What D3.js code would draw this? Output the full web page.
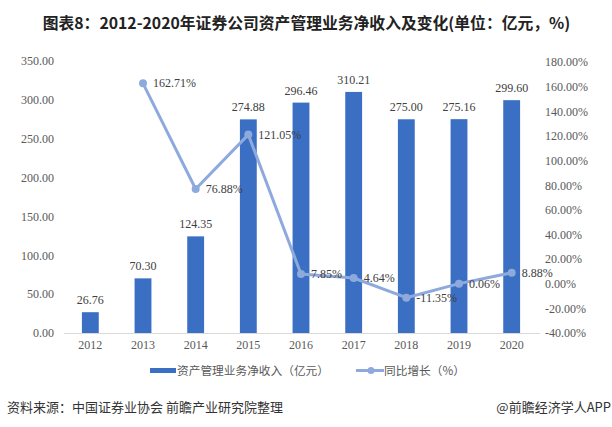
<!DOCTYPE html>
<html><head><meta charset="utf-8">
<script src="https://cdn.jsdelivr.net/npm/d3@7/dist/d3.min.js"></script>
<style>body{margin:0;background:#fff}svg{display:block}</style>
</head><body><svg id="c" width="612" height="427"></svg>
<script>
const years = ["2012","2013","2014","2015","2016","2017","2018","2019","2020"];
const revenue = [26.76,70.30,124.35,274.88,296.46,310.21,275.00,275.16,299.60];
const growth = [null,162.71,76.88,121.05,7.85,4.64,-11.35,0.06,8.88];
const leftTicks = [0,50,100,150,200,250,300,350];
const rightTicks = [-40,-20,0,20,40,60,80,100,120,140,160,180];
const title = "图表8：2012-2020年证券公司资产管理业务净收入及变化(单位：亿元，%)";
const legendBar = "资产管理业务净收入（亿元）";
const legendLine = "同比增长（%）";
const source = "资料来源：中国证券业协会 前瞻产业研究院整理";
const credit = "@前瞻经济学人APP";

const svg = d3.select("#c");
const serif = "'Liberation Serif','DejaVu Serif',serif";
const sans = "'Noto Sans CJK SC','Noto Sans',sans-serif";
const barColor = "#3a6fc4", lineColor = "#8eaadc", txt = "#595959";

const x = d3.scaleBand().domain(years).range([64,538]).paddingInner(0.68).paddingOuter(0.34);
const y = d3.scaleLinear().domain([0,350]).range([333,61]);
const y2 = d3.scaleLinear().domain([-40,180]).range([333,62]);

svg.append("text").attr("x",306.5).attr("y",29).attr("text-anchor","middle")
  .attr("font-family",sans).attr("font-weight","bold").attr("font-size",15.8).attr("fill","#222").text(title);

// left axis
const ga = svg.append("g").attr("transform","translate(56,0)")
  .call(d3.axisLeft(y).tickValues(leftTicks).tickFormat(d3.format(".2f")).tickSize(0).tickPadding(2));
ga.select(".domain").remove();
ga.selectAll("text").attr("font-family",serif).attr("font-size",12).attr("fill",txt);

const gr = svg.append("g").attr("transform","translate(543,0)")
  .call(d3.axisRight(y2).tickValues(rightTicks).tickFormat(d=>d.toFixed(2)+"%").tickSize(0).tickPadding(2));
gr.select(".domain").remove();
gr.selectAll("text").attr("font-family",serif).attr("font-size",12).attr("fill",txt);

// x axis
const gx = svg.append("g").attr("transform","translate(0,333)")
  .call(d3.axisBottom(x).tickSize(0).tickPadding(7));
gx.select(".domain").attr("stroke","#d9d9d9").attr("d","M64,0.5H540");
gx.selectAll("text").attr("font-family",serif).attr("font-size",12).attr("fill",txt);

// bars
svg.append("g").selectAll("rect").data(years).join("rect")
  .attr("x",d=>x(d)).attr("width",x.bandwidth())
  .attr("y",(d,i)=>y(revenue[i])).attr("height",(d,i)=>y(0)-y(revenue[i]))
  .attr("fill",barColor);
svg.append("g").selectAll("text").data(years).join("text")
  .attr("x",d=>x(d)+x.bandwidth()/2).attr("y",(d,i)=>y(revenue[i])-8)
  .attr("text-anchor","middle").attr("font-family",serif).attr("font-size",12).attr("fill","#404040")
  .text((d,i)=>revenue[i].toFixed(2));

// line
const pts = years.map((d,i)=>({yr:d,v:growth[i]})).filter(p=>p.v!==null);
const cx = d=>x(d.yr)+x.bandwidth()/2;
svg.append("path").datum(pts).attr("fill","none").attr("stroke",lineColor).attr("stroke-width",3)
  .attr("stroke-linejoin","round")
  .attr("d",d3.line().x(cx).y(d=>y2(d.v)));
svg.append("g").selectAll("circle").data(pts).join("circle")
  .attr("cx",cx).attr("cy",d=>y2(d.v)).attr("r",4).attr("fill",lineColor);
svg.append("g").selectAll("text").data(pts).join("text")
  .attr("x",d=>cx(d)+10).attr("y",d=>y2(d.v)+4)
  .attr("font-family",serif).attr("font-size",12).attr("fill","#404040")
  .text(d=>d.v.toFixed(2)+"%");

// legend
const lg = svg.append("g").attr("font-family",sans).attr("font-size",11.7).attr("fill",txt);
lg.append("rect").attr("x",150).attr("y",368).attr("width",26).attr("height",5).attr("fill",barColor);
lg.append("text").attr("x",177).attr("y",375).text(legendBar);
lg.append("line").attr("x1",356).attr("x2",384).attr("y1",370.5).attr("y2",370.5).attr("stroke",lineColor).attr("stroke-width",3);
lg.append("circle").attr("cx",371).attr("cy",370.5).attr("r",3.5).attr("fill",lineColor);
lg.append("text").attr("x",384).attr("y",375).text(legendLine);

svg.append("text").attr("x",7).attr("y",412).attr("font-family",sans).attr("font-size",13).attr("fill","#333").text(source);
svg.append("text").attr("x",611).attr("y",412).attr("text-anchor","end").attr("font-family",sans).attr("font-size",13).attr("fill","#333").text(credit);
</script></body></html>
